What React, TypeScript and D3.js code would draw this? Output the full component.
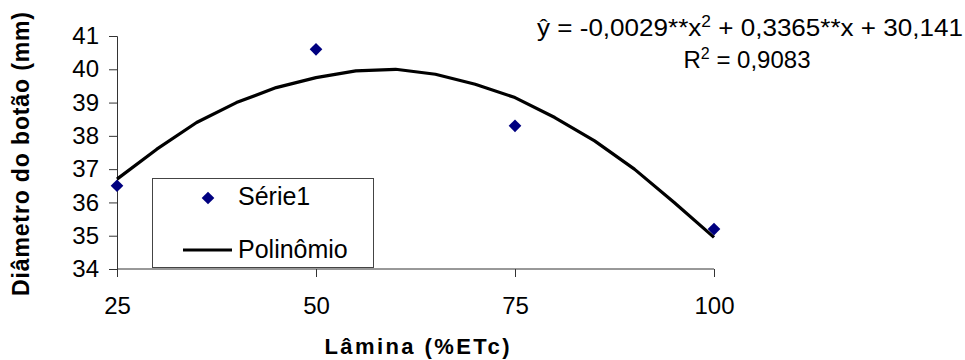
import { useRef, useEffect } from 'react';
import * as d3 from 'd3';

// observed points (Série1)
const laminas = [25, 50, 75, 100];
const diametros = [36.5, 40.6, 38.3, 35.2];

// polynomial trend line
const curveX = [25, 30, 35, 40, 45, 50, 55, 60, 65, 70, 75, 80, 85, 90, 95, 100];
const curveY = [36.7, 37.6, 38.4, 39.0, 39.45, 39.75, 39.95, 40.0, 39.85, 39.55, 39.15, 38.55, 37.85, 37.0, 36.0, 34.95];

const xTicks = [25, 50, 75, 100];
const yTicks = [34, 35, 36, 37, 38, 39, 40, 41];

const W = 965;
const H = 360;
const FONT = '"Liberation Sans", Arial, sans-serif';

export default function App() {
    const svgRef = useRef<SVGSVGElement | null>(null);

    useEffect(() => {
        if (!svgRef.current) return;
        const svg = d3.select(svgRef.current);
        svg.selectAll('*').remove();

        const x = d3.scaleLinear().domain([25, 100]).range([117, 714]);
        const y = d3.scaleLinear().domain([34, 41]).range([269, 36]);

        const axisColor = '#333';

        // y axis
        const yAxis = svg.append('g')
            .attr('transform', 'translate(117,0)')
            .call(d3.axisLeft(y).tickValues(yTicks).tickSize(8).tickPadding(10).tickFormat(d3.format('d')));
        yAxis.select('.domain').attr('stroke', axisColor);
        yAxis.selectAll('line').attr('stroke', axisColor);
        yAxis.selectAll('text')
            .attr('font-family', FONT)
            .attr('font-size', 24)
            .attr('fill', '#000');

        // x axis
        const xAxis = svg.append('g')
            .attr('transform', 'translate(0,269)')
            .call(d3.axisBottom(x).tickValues(xTicks).tickSize(8).tickPadding(20).tickFormat(d3.format('d')));
        xAxis.select('.domain').attr('stroke', axisColor).attr('d', `M${x(25)},0H${x(100)}`);
        xAxis.selectAll('line').attr('stroke', axisColor);
        xAxis.selectAll('text')
            .attr('font-family', FONT)
            .attr('font-size', 24)
            .attr('fill', '#000');

        // axis titles
        svg.append('text')
            .attr('transform', 'translate(29,154) rotate(-90)')
            .attr('text-anchor', 'middle')
            .attr('font-family', FONT)
            .attr('font-weight', 'bold')
            .attr('font-size', 23)
            .attr('textLength', 284)
            .attr('lengthAdjust', 'spacing')
            .text('Diâmetro do botão (mm)');

        svg.append('text')
            .attr('x', 417)
            .attr('y', 354)
            .attr('text-anchor', 'middle')
            .attr('font-family', FONT)
            .attr('font-weight', 'bold')
            .attr('font-size', 22)
            .attr('textLength', 185)
            .attr('lengthAdjust', 'spacing')
            .text('Lâmina (%ETc)');

        // trend line
        const line = d3.line<number>()
            .x((_, i) => x(curveX[i]))
            .y(d => y(d));
        svg.append('path')
            .datum(curveY)
            .attr('d', line)
            .attr('fill', 'none')
            .attr('stroke', '#000')
            .attr('stroke-width', 3.2)
            .attr('stroke-linejoin', 'round');

        // points
        const diamond = d3.symbol().type(d3.symbolSquare).size(80);
        svg.selectAll('.pt')
            .data(diametros)
            .join('path')
            .attr('class', 'pt')
            .attr('d', diamond)
            .attr('transform', (d, i) => `translate(${x(laminas[i])},${y(d)}) rotate(45)`)
            .attr('fill', '#000080');

        // equation
        const eq = svg.append('text')
            .attr('x', 750)
            .attr('y', 36)
            .attr('text-anchor', 'middle')
            .attr('font-family', FONT)
            .attr('font-size', 24)
            .attr('textLength', 426)
            .attr('lengthAdjust', 'spacingAndGlyphs');
        eq.append('tspan').text('ŷ = -0,0029**x');
        eq.append('tspan').attr('dy', -9).attr('font-size', 16).text('2');
        eq.append('tspan').attr('dy', 9).text(' + 0,3365**x + 30,141');

        const r2 = svg.append('text')
            .attr('x', 747)
            .attr('y', 68)
            .attr('text-anchor', 'middle')
            .attr('font-family', FONT)
            .attr('font-size', 24);
        r2.append('tspan').text('R');
        r2.append('tspan').attr('dy', -9).attr('font-size', 16).text('2');
        r2.append('tspan').attr('dy', 9).text(' = 0,9083');

        // legend
        const lg = svg.append('g');
        lg.append('rect')
            .attr('x', 152.5).attr('y', 178.5)
            .attr('width', 221).attr('height', 89)
            .attr('fill', '#fff')
            .attr('stroke', '#444')
            .attr('stroke-width', 1);
        lg.append('path')
            .attr('d', diamond)
            .attr('transform', 'translate(208,198) rotate(45)')
            .attr('fill', '#000080');
        lg.append('text')
            .attr('x', 238).attr('y', 205)
            .attr('font-family', FONT).attr('font-size', 25)
            .text('Série1');
        lg.append('line')
            .attr('x1', 183).attr('x2', 232)
            .attr('y1', 250).attr('y2', 250)
            .attr('stroke', '#000').attr('stroke-width', 3.2);
        lg.append('text')
            .attr('x', 238).attr('y', 258)
            .attr('font-family', FONT).attr('font-size', 25)
            .text('Polinômio');
    }, []);

    return (
        <svg
            ref={svgRef}
            width={W}
            height={H}
            style={{ position: 'absolute', left: 0, top: 0, background: '#fff' }}
        />
    );
}
